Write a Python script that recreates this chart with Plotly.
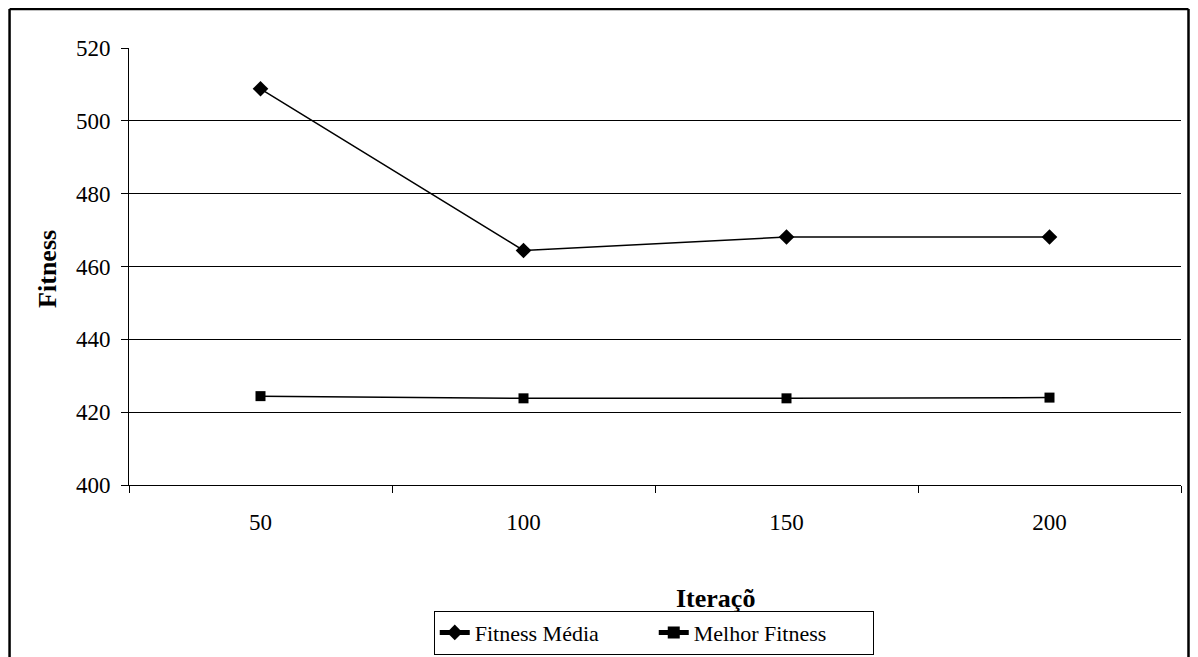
import plotly.graph_objects as go

categories = ["50", "100", "150", "200"]
fitness_media = [508.8, 464.4, 468.1, 468.1]
melhor_fitness = [424.4, 423.8, 423.8, 424.0]
y_ticks = [400, 420, 440, 460, 480, 500, 520]

# page is rendered with an 8px body margin, so the figure is 8px smaller
OFF = 8
W, H = 1198 - OFF, 657 - OFF
L, R, T, B = 129 - OFF, 16.5, 48 - OFF, 171.7
pw, ph = W - L - R, H - T - B

def px(x):  # page x -> paper
    return (x - OFF - L) / pw

def py(y):  # page y -> paper
    return (H - B - (y - OFF)) / ph

font = "Liberation Serif, Times New Roman, serif"

fig = go.Figure()
fig.add_trace(go.Scatter(
    x=categories, y=fitness_media, name="Fitness Média", mode="lines+markers",
    line=dict(color="black", width=1.5),
    marker=dict(symbol="diamond", size=12, color="black"),
))
fig.add_trace(go.Scatter(
    x=categories, y=melhor_fitness, name="Melhor Fitness", mode="lines+markers",
    line=dict(color="black", width=1.5),
    marker=dict(symbol="square", size=10, color="black"),
))

fig.update_layout(
    width=W, height=H,
    margin=dict(l=L, r=R, t=T, b=B, autoexpand=False),
    paper_bgcolor="white", plot_bgcolor="white",
    font=dict(family=font, size=23, color="black"),
    showlegend=True,
    legend=dict(
        orientation="h", x=px(654), y=py(655), xanchor="center", yanchor="bottom",
        bordercolor="black", borderwidth=1, bgcolor="white",
        font=dict(family=font, size=22, color="black"),
        itemsizing="constant", tracegroupgap=0, entrywidth=174,
    ),
    xaxis=dict(
        type="category", range=[-0.5, 3.5], tickson="boundaries",
        ticks="outside", ticklen=7, tickcolor="black", tickwidth=1,
        showline=True, linecolor="black", linewidth=1,
        showgrid=False, zeroline=False, ticklabelstandoff=16,
        tickfont=dict(family=font, size=23, color="black"),
    ),
    yaxis=dict(
        range=[400, 520], tickvals=y_ticks,
        ticks="outside", ticklen=7, tickcolor="black", tickwidth=1,
        showline=True, linecolor="black", linewidth=1,
        showgrid=True, gridcolor="black", gridwidth=1, zeroline=False,
        ticklabelstandoff=6,
        tickfont=dict(family=font, size=23, color="black"),
    ),
)

fig.add_annotation(
    text="<b>Fitness</b>", xref="paper", yref="paper", x=px(48), y=py(269),
    showarrow=False, textangle=-90, font=dict(family=font, size=26, color="black"),
    xanchor="center", yanchor="middle",
)
fig.add_annotation(
    text="<b>Iteraçõ</b>", xref="paper", yref="paper", x=px(716), y=py(599),
    showarrow=False, font=dict(family=font, size=26, color="black"),
    xanchor="center", yanchor="middle",
)

# outer chart border (left, top, right)
for x0, y0, x1, y1 in [(9.5, 9, 9.5, 670), (9.5, 9, 1189, 9), (1189, 9, 1189, 670)]:
    fig.add_shape(type="line", xref="paper", yref="paper",
                  x0=px(x0), y0=py(y0), x1=px(x1), y1=py(y1),
                  line=dict(color="black", width=2.5), layer="above")

fig.write_html("out.html")
